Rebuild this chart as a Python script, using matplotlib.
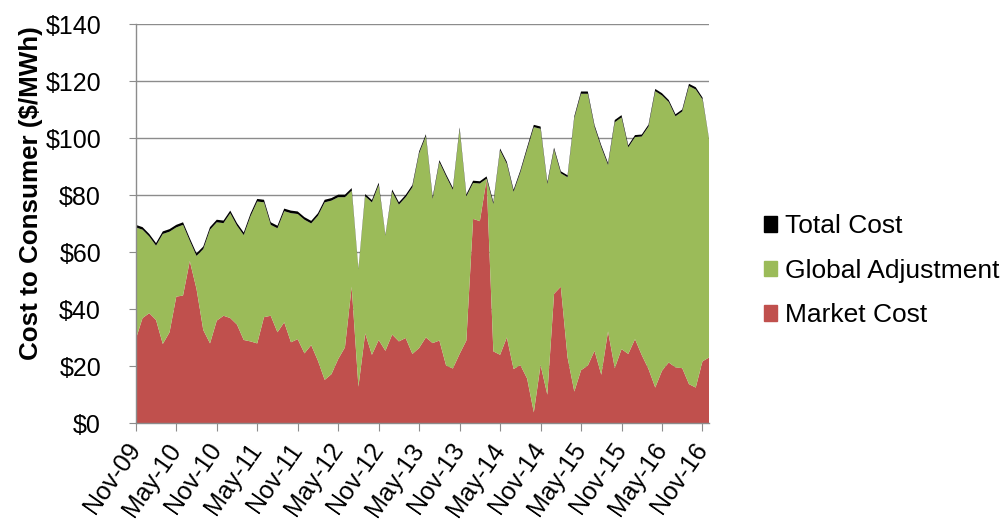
import matplotlib.pyplot as plt
import matplotlib.patches as mpatches
import numpy as np

plt.rcParams['font.family'] = ['Liberation Sans', 'DejaVu Sans']

# monthly values, Nov-09 .. Dec-16 ($/MWh)
market_cost = [
    29.5, 36.9, 38.6, 36.2, 27.8, 31.9, 44.4, 44.8, 56.9, 47.1,
    32.7, 28.0, 36.0, 37.7, 36.9, 34.6, 29.2, 28.7, 28.0, 37.2,
    37.7, 31.9, 35.4, 28.4, 29.5, 24.5, 27.4, 21.9, 15.2, 17.2,
    22.5, 26.6, 47.9, 12.8, 31.5, 24.0, 29.2, 25.4, 31.1, 28.7,
    29.9, 24.3, 26.4, 30.1, 28.1, 29.0, 20.2, 19.2, 24.3, 29.0,
    71.7, 70.9, 85.6, 25.2, 24.0, 30.1, 19.0, 20.4, 15.7, 3.8,
    20.4, 10.0, 45.4, 47.9, 23.1, 11.1, 18.6, 20.2, 25.4, 17.0,
    32.2, 19.3, 26.0, 24.3, 29.5, 23.9, 19.0, 12.5, 18.4, 21.3,
    19.6, 19.3, 13.7, 12.5, 21.7, 23.1,
]
global_adjustment = [
    39.2, 31.0, 26.9, 26.1, 38.6, 35.3, 24.3, 24.8, 7.1, 11.6,
    28.4, 39.9, 34.5, 32.5, 36.8, 34.7, 36.8, 43.9, 49.8, 40.3,
    31.9, 36.5, 39.0, 45.3, 43.9, 46.9, 42.7, 50.9, 62.3, 60.9,
    56.8, 52.7, 33.7, 41.2, 48.1, 53.5, 54.4, 40.4, 50.1, 48.0,
    49.4, 58.5, 68.3, 70.6, 50.6, 62.6, 66.4, 62.7, 78.8, 50.6,
    12.6, 13.2, 0.2, 51.7, 71.7, 60.9, 62.2, 67.6, 80.3, 100.1,
    82.9, 73.9, 50.6, 39.8, 63.2, 95.9, 97.0, 95.4, 78.5, 79.8,
    58.4, 86.3, 81.3, 72.5, 70.9, 76.7, 85.1, 104.0, 96.6, 91.4,
    88.1, 90.1, 104.6, 104.6, 91.9, 76.1,
]
total_cost = [
    0.9, 0.9, 0.9, 0.9, 0.9, 0.9, 0.9, 0.9, 0.9, 0.9,
    0.9, 0.9, 0.9, 0.9, 0.9, 0.9, 0.9, 0.9, 0.9, 0.9,
    0.9, 0.9, 0.9, 0.9, 0.9, 0.9, 0.9, 0.9, 0.9, 0.9,
    0.9, 0.9, 0.9, 0.3, 0.8, 0.8, 0.8, 0.3, 0.8, 0.8,
    0.8, 0.8, 0.7, 0.7, 0.7, 0.7, 0.7, 0.7, 0.7, 0.7,
    0.8, 0.8, 0.8, 0.7, 0.7, 0.7, 0.7, 0.7, 0.8, 0.8,
    0.8, 0.7, 0.7, 0.7, 0.7, 0.7, 0.8, 0.8, 0.7, 0.7,
    0.7, 0.8, 0.8, 0.7, 0.7, 0.7, 0.7, 0.8, 0.8, 0.7,
    0.7, 0.7, 0.8, 0.8, 0.7, 0.2,
]
tick_labels = ["Nov-09", "May-10", "Nov-10", "May-11", "Nov-11", "May-12",
               "Nov-12", "May-13", "Nov-13", "May-14", "Nov-14", "May-15",
               "Nov-15", "May-16", "Nov-16"]
series_names = ["Market Cost", "Global Adjustment", "Total Cost"]
colors = ["#C0504D", "#9BBB59", "#000000"]

months = np.arange(len(market_cost))
grey = "#8c8c8c"

fig, ax = plt.subplots(figsize=(10.06, 5.27), dpi=100)
fig.subplots_adjust(left=0.135, right=0.705, bottom=0.197, top=0.954)

ax.stackplot(months, market_cost, global_adjustment, total_cost,
             colors=colors, linewidth=0, zorder=2)

ax.set_xlim(0, len(months) - 1)
ax.set_ylim(0, 140)
ax.set_yticks(range(0, 141, 20))
ax.set_yticklabels([f"${v}" for v in range(0, 141, 20)])
ax.yaxis.grid(True, color=grey, linewidth=1.0, zorder=1)
ax.set_axisbelow(True)

ax.set_xticks(months[::6])
ax.set_xticklabels(tick_labels)
for lbl in ax.get_xticklabels():
    lbl.set_rotation(55)
    lbl.set_ha("right")
    lbl.set_va("center")
    lbl.set_rotation_mode("anchor")

ax.tick_params(axis="y", direction="out", length=5, color=grey,
               labelsize=18, pad=20)
ax.tick_params(axis="x", direction="out", length=6, color=grey,
               labelsize=18, pad=10)

for side in ["top", "right"]:
    ax.spines[side].set_visible(False)
for side in ["left", "bottom"]:
    ax.spines[side].set_color(grey)
    ax.spines[side].set_linewidth(1.0)

ax.set_ylabel("Cost to Consumer ($/MWh)", fontsize=18.7, fontweight="bold")
ax.yaxis.set_label_coords(-0.162, 0.576)

handles = [mpatches.Patch(color=c, label=n) for c, n in zip(colors, series_names)]
fig.legend(handles=handles[::-1], loc="center left",
           bbox_to_anchor=(0.746, 0.486), frameon=False, fontsize=19,
           handlelength=0.52, handleheight=0.52, handletextpad=0.3,
           labelspacing=0.78, borderpad=0)

fig.savefig("out.png", dpi=100)
